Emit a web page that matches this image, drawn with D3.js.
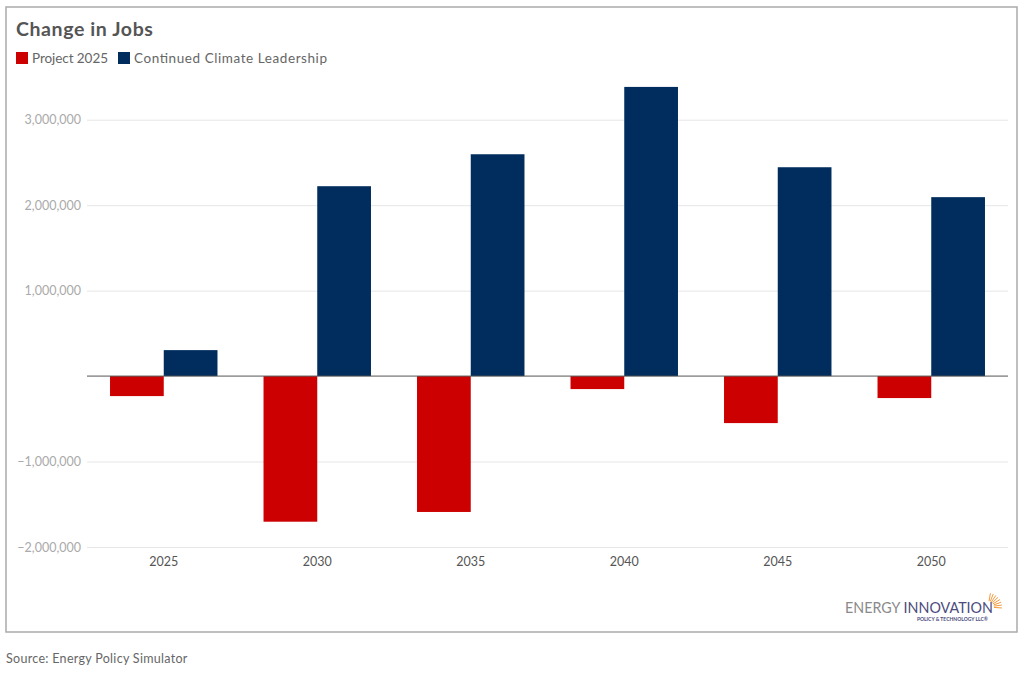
<!DOCTYPE html>
<html>
<head>
<meta charset="utf-8">
<script src="https://cdn.jsdelivr.net/npm/d3@7"></script>
<style>
  body { margin: 0; background: #fff; }
  text { font-family: Lato, "Open Sans", sans-serif; }
</style>
</head>
<body>
<div id="chart"></div>
<script>
// data
var years = ["2025", "2030", "2035", "2040", "2045", "2050"];
var seriesNames = ["Project 2025", "Continued Climate Leadership"];
var project2025 = [-234000, -1704000, -1590000, -152000, -550000, -257000];
var climateLeadership = [304000, 2222000, 2596000, 3384000, 2444000, 2094000];
var yTicks = [-2000000, -1000000, 1000000, 2000000, 3000000];
var colors = ["#cc0000", "#002d5d"];

var svgWidth = 1023, svgHeight = 673;
var margin = { top: 77, right: 15, bottom: 126, left: 87 };
var width = svgWidth - margin.left - margin.right;
var height = svgHeight - margin.top - margin.bottom;

var svg = d3.select("#chart").append("svg")
  .attr("width", svgWidth)
  .attr("height", svgHeight);

// frame
svg.append("rect")
  .attr("x", 6).attr("y", 7)
  .attr("width", 1011).attr("height", 625)
  .attr("fill", "none")
  .attr("stroke", "#aaaaaa")
  .attr("stroke-width", 1.5);

// title
svg.append("text")
  .attr("x", 16).attr("y", 36)
  .attr("font-size", 19.5).attr("font-weight", "bold")
  .attr("letter-spacing", 0.6)
  .attr("fill", "#555")
  .text("Change in Jobs");

// legend
var legend = svg.append("g").attr("transform", "translate(16, 48)");
var legendX = [0, 102];
var legendLen = [76, 193];
seriesNames.forEach(function (name, i) {
  legend.append("rect")
    .attr("x", legendX[i]).attr("y", 4)
    .attr("width", 12).attr("height", 12)
    .attr("fill", colors[i]);
  legend.append("text")
    .attr("x", legendX[i] + 16).attr("y", 15)
    .attr("font-size", 13.5).attr("fill", "#666")
    .attr("textLength", legendLen[i]).attr("lengthAdjust", "spacing")
    .text(name);
});

var chartGroup = svg.append("g")
  .attr("transform", `translate(${margin.left}, ${margin.top})`);

var xScale = d3.scaleBand().domain(years).range([0, width]).paddingInner(0.3).paddingOuter(0.15);
var xInner = d3.scaleBand().domain([0, 1]).range([0, xScale.bandwidth()]);
var yScale = d3.scaleLinear().domain([-2000000, 3500000]).range([height, 0]);

// grid + y labels
var leftAxis = d3.axisLeft(yScale)
  .tickValues(yTicks)
  .tickSize(-width)
  .tickPadding(6)
  .tickFormat(d3.format(","));
var yAxis = chartGroup.append("g").call(leftAxis);
yAxis.select(".domain").remove();
yAxis.selectAll(".tick line").attr("stroke", "#e6e6e6");
yAxis.selectAll(".tick text")
  .attr("fill", "#aaa")
  .attr("font-size", 12.5)
  .text(function (d) { return d3.format(",")(d).replace("-", "\u2212"); });

// bars
var data = years.map(function (y, i) { return [project2025[i], climateLeadership[i]]; });
var groups = chartGroup.selectAll(".year")
  .data(data)
  .enter().append("g")
  .attr("transform", function (d, i) { return `translate(${xScale(years[i])}, 0)`; });
groups.selectAll("rect")
  .data(function (d) { return d; })
  .enter().append("rect")
  .attr("x", function (d, j) { return xInner(j); })
  .attr("y", function (d) { return yScale(Math.max(0, d)); })
  .attr("width", xInner.bandwidth())
  .attr("height", function (d) { return Math.abs(yScale(d) - yScale(0)); })
  .attr("fill", function (d, j) { return colors[j]; });

// zero line
chartGroup.append("line")
  .attr("x1", 0).attr("x2", width)
  .attr("y1", yScale(0)).attr("y2", yScale(0))
  .attr("stroke", "#555").attr("stroke-width", 1);

// x labels
var bottomAxis = d3.axisBottom(xScale).tickSize(0).tickPadding(10);
var xAxis = chartGroup.append("g")
  .attr("transform", `translate(0, ${height})`)
  .call(bottomAxis);
xAxis.select(".domain").remove();
xAxis.selectAll(".tick text").attr("fill", "#555").attr("font-size", 12.5);

// logo
var logo = svg.append("g");
logo.append("text")
  .attr("x", 845).attr("y", 613)
  .attr("font-size", 15.5)
  .attr("textLength", 148).attr("lengthAdjust", "spacingAndGlyphs")
  .html('<tspan fill="#8a8a8a">ENERGY </tspan><tspan fill="#4b4b7d">INNOVATION</tspan>');
logo.append("text")
  .attr("x", 988).attr("y", 621)
  .attr("text-anchor", "end")
  .attr("font-size", 5).attr("font-weight", "bold")
  .attr("fill", "#4b4b7d")
  .text("POLICY & TECHNOLOGY LLC\u00ae");
var rayAngles = d3.range(-80, 10, 12);
logo.selectAll(".ray")
  .data(rayAngles)
  .enter().append("line")
  .attr("x1", function (a) { return 988 + 6 * Math.cos(a * Math.PI / 180); })
  .attr("y1", function (a) { return 607 + 6 * Math.sin(a * Math.PI / 180); })
  .attr("x2", function (a) { return 988 + 14 * Math.cos(a * Math.PI / 180); })
  .attr("y2", function (a) { return 607 + 14 * Math.sin(a * Math.PI / 180); })
  .attr("stroke", "#f39a3c").attr("stroke-width", 1);

// source
svg.append("text")
  .attr("x", 6).attr("y", 663)
  .attr("font-size", 12.5).attr("fill", "#666")
  .attr("letter-spacing", 0.3)
  .text("Source: Energy Policy Simulator");
</script>
</body>
</html>
